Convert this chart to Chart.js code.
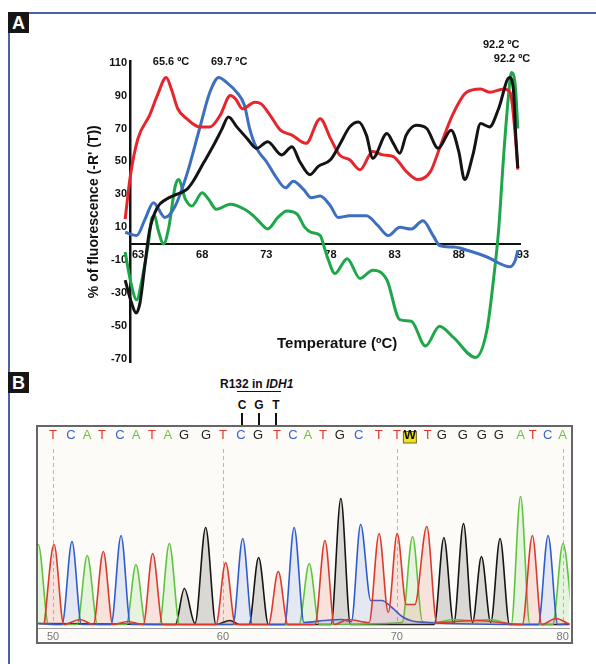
<!DOCTYPE html>
<html>
<head>
<meta charset="utf-8">
<script src="https://cdn.jsdelivr.net/npm/chart.js@4.4.0/dist/chart.umd.min.js"></script>
<style>
body { margin: 0; background: #fff; font-family: 'Liberation Sans', Arial, sans-serif; }
#page { position: relative; width: 596px; height: 664px; overflow: hidden; background: #fff; }
.rule { position: absolute; background: #4a63a3; }
.tag { position: absolute; left: 8px; width: 21px; height: 21px; line-height: 22px; background: #161616; color: #fff;
       font-weight: bold; font-size: 18px; text-align: center; }
.note { position: absolute; font-weight: bold; font-size: 12px; color: #111; white-space: nowrap; }
.bar { position: absolute; background: #111; }
#meltCanvas { position: absolute; left: 0; top: 0; }
#traceBox { position: absolute; left: 36px; top: 425px; width: 537px; height: 219px; box-sizing: border-box;
            border: 2px solid #666; background: #fcfbf7; }
#traceCanvas { position: absolute; left: 0; top: 0; }
#xTitle { position: absolute; left: 277px; top: 334px; font-weight: bold; font-size: 15px; color: #111; }
</style>
</head>
<body>
<div id="page">
  <div class="rule" style="left:29px; top:12px; width:567px; height:1.5px;"></div>
  <div class="rule" style="left:8px; top:33px; width:1.5px; height:339px;"></div>
  <div class="rule" style="left:8px; top:393px; width:1.5px; height:271px;"></div>
  <div class="tag" style="top:12px;">A</div>
  <div class="tag" style="top:372px;">B</div>

  <canvas id="meltCanvas" width="596" height="372"></canvas>
  <div id="xTitle">Temperature (ºC)</div>

  <div class="note" style="left:220px; top:377px;">R132 in <i>IDH1</i></div>
  <div class="bar" style="left:237px; top:390.5px; width:44px; height:1.5px;"></div>
  <div class="note" style="left:236px; top:398px; width:12px; text-align:center;">C</div>
  <div class="note" style="left:253px; top:398px; width:12px; text-align:center;">G</div>
  <div class="note" style="left:270px; top:398px; width:12px; text-align:center;">T</div>
  <div class="bar" style="left:241px; top:413px; width:2px; height:12px;"></div>
  <div class="bar" style="left:258px; top:413px; width:2px; height:12px;"></div>
  <div class="bar" style="left:275px; top:413px; width:2px; height:12px;"></div>

  <div id="traceBox"><canvas id="traceCanvas" width="533" height="215"></canvas></div>
</div>

<script>
// ---- panel A: melt curves, % of fluorescence against temperature ----
var tempTicks = [63, 68, 73, 78, 83, 88, 93];
var fluoTicks = [110, 90, 70, 50, 30, 10, -10, -30, -50, -70];

var tempRed = [62.0, 62.4, 63.0, 63.9, 64.5, 65.2, 65.6, 66.1, 66.8, 67.8, 68.6, 69.4, 70.2, 70.6, 71.15, 72.1, 72.6, 73.3, 74.1, 75.0,
               76.1, 77.2, 78.0, 78.7, 79.5, 80.3, 81.3, 82.1, 82.9, 83.9, 84.8, 85.8, 86.5, 87.5, 88.6, 89.7, 90.4, 91.5, 92.0, 92.4, 92.6];
var fluoRed = [15, 41, 64, 78, 90, 101, 94, 82, 76, 71, 71, 78, 90, 88, 82, 86, 85, 78, 69, 66,
               61, 76, 64, 54, 51, 45, 56, 54, 53, 44, 39, 44, 58, 78, 92, 94, 92, 94, 92, 66, 45];

var tempBlue = [62.0, 62.9, 63.55, 64.2, 65.1, 65.9, 66.8, 67.8, 68.6, 69.3, 69.9, 70.7, 71.3, 71.7, 72.25, 73.0, 73.8, 74.5, 75.1, 75.9,
                76.5, 77.2, 78.0, 78.6, 79.5, 80.8, 81.7, 82.5, 83.4, 84.3, 85.2, 86.0, 86.5, 87.6, 89.1, 90.2, 92.0, 92.4, 92.6];
var fluoBlue = [7, 5, 15, 25, 16, 23, 42, 70, 92, 101, 98, 92, 84, 70, 58, 50, 40, 34, 38, 33,
                28, 29, 23, 16, 17, 17, 11, 5, 10, 9, 14, 5, -1, -2, -5, -8, -14, -10, -4];

var tempBlack = [62.0, 62.5, 62.85, 63.15, 63.55, 63.9, 64.5, 65.2, 66.0, 66.8, 67.3, 68.1, 68.9, 69.5, 70.05, 70.7, 71.5, 72.25, 73.1, 74.2,
                 75.0, 75.6, 76.4, 77.05, 78.0, 78.7, 79.5, 80.2, 80.8, 81.3, 82.4, 82.9, 83.4, 83.9, 84.7, 85.5, 86.4, 87.4, 88.0, 88.45,
                 89.1, 89.7, 90.4, 91.1, 91.95, 92.25, 92.45, 92.6];
var fluoBlack = [-22, -36, -42, -36, -12, 8, 22, 27, 30, 33, 38, 49, 60, 69, 77, 71, 64, 58, 62, 54,
                 59, 50, 42, 47, 51, 60, 71, 74, 66, 52, 67, 61, 55, 66, 72, 70, 58, 69, 56, 39,
                 54, 73, 71, 82, 101, 94, 64, 46];

var tempGreen = [62.0, 62.4, 62.9, 63.3, 63.8, 64.1, 64.3, 64.55, 65.0, 65.4, 65.9, 66.15, 66.7, 67.2, 68.0, 68.5, 69.1, 70.2, 71.3, 72.0,
                 72.5, 73.1, 73.9, 74.6, 75.4, 76.0, 76.5, 77.2, 77.55, 77.8, 78.35, 79.3, 80.3, 81.3, 82.4, 83.4, 84.3, 85.4, 86.5, 87.6,
                 89.3, 90.2, 90.7, 91.1, 91.5, 91.85, 92.1, 92.4, 92.6];
var fluoGreen = [-5, -22, -34, -22, 0, 16, 17, 9, 0, 10, 35, 39, 27, 23, 31, 27, 21, 24, 21, 17,
                 13, 9, 16, 20, 18, 10, 7, 5, -3, -9, -18, -9, -21, -16, -22, -46, -47, -62, -50, -57,
                 -69, -52, -22, 8, 54, 88, 104, 96, 70];

var peakLabels = ['65.6 ºC', '69.7 ºC', '92.2 ºC', '92.2 ºC'];

// ---- panel B: sequencing trace ----
var bases = ['T','C','A','T','C','A','T','A','G','G','T','C','G','T','C','A','T','G','C','T','T','W','T','G','G','G','G','A','T','C','A'];
var basePos = [49.97, 51.03, 51.98, 52.86, 53.93, 54.87, 55.82, 56.76, 57.71, 59.01, 60.01, 61.08, 62.08, 63.20, 64.15, 65.03,
               65.92, 66.92, 68.04, 69.22, 70.29, 71.06, 72.12, 72.95, 74.19, 75.31, 76.31, 77.61, 78.32, 79.20, 80.09];
var baseNumbers = [50, 60, 70, 80];
var baseNumberIdx = [0, 10, 20, 30];

var greenX = [48.5, 49.1, 49.7, 51.4, 51.99, 52.6, 54.3, 54.87, 55.45, 56.25, 56.84, 57.45, 64.5, 65.11, 65.7, 70.6, 71.22, 71.8, 72.6, 73.6,
              74.7, 75.8, 76.6, 77.05, 77.6, 78.15, 79.5, 80.11, 80.7];
var greenY = [0, 80, 0, 0, 69, 0, 0, 60, 0, 0, 81, 0, 0, 61, 0, 2, 88, 3, 2, 5,
              4, 5, 2, 0, 128, 0, 0, 81, 0];
var redX = [49.45, 50.03, 50.6, 51.57, 52.35, 52.94, 53.5, 54.4, 55.3, 55.86, 56.45, 59.6, 60.17, 60.75, 62.7, 63.28, 63.85, 65.45, 66.04, 66.6,
            67.4, 68.65, 69.24, 69.78, 70.31, 70.85, 71.35, 72.06, 72.65, 75.0, 77.7, 78.3, 78.85, 79.7, 80.5];
var redY = [0, 80, 0, 5, 0, 73, 0, 3, 0, 71, 0, 0, 62, 0, 0, 53, 0, 0, 84, 0,
            5, 2, 91, 12, 91, 20, 20, 98, 2, 4, 0, 89, 0, 6, 0];
var blueX = [49.1, 50.5, 51.09, 51.65, 53.4, 53.99, 54.55, 60.6, 61.18, 61.75, 63.65, 64.22, 64.8, 66.0, 67.0, 67.6, 68.15, 68.75, 69.4, 70.0,
             70.6, 71.1, 72.0, 78.65, 79.23, 79.8, 80.5];
var blueY = [1, 0, 83, 0, 0, 89, 0, 0, 86, 0, 0, 97, 2, 4, 5, 3, 100, 24, 24, 17,
             8, 4, 2, 0, 89, 0, 1];
var blackX = [49.1, 57.2, 57.73, 58.36, 58.99, 59.6, 60.42, 61.0, 61.55, 62.12, 62.7, 66.4, 66.98, 67.55, 72.5, 73.07, 73.65, 74.23, 74.76, 75.29,
              75.84, 76.39, 76.95, 80.5];
var blackY = [1, 0, 36, 1, 97, 0, 4, 0, 0, 67, 0, 0, 126, 0, 0, 87, 1, 101, 2, 68,
              2, 86, 0, 0];

var baseColors = { T: '#e2392d', C: '#3b64c8', A: '#6cc04a', G: '#222222', W: '#111111' };
var FONT = "'Liberation Sans', Arial, sans-serif";
Chart.defaults.font.family = FONT;

function pts(xs, ys) {
    return xs.map(function (x, i) { return { x: x, y: ys[i] }; });
}

function meltLine(label, xs, ys, color) {
    return { label: label, data: pts(xs, ys), borderColor: color, backgroundColor: color, borderWidth: 3,
             pointRadius: 0, fill: false, clip: false, cubicInterpolationMode: 'monotone' };
}

// peak temperature labels above the curves
var peakText = {
    id: 'peakText',
    afterDraw: function (chart) {
        var ctx = chart.ctx, sx = chart.scales.x, sy = chart.scales.y;
        var spots = [[65.57, 110.4], [70.1, 110.4], [91.3, 120.7], [92.15, 112.2]];
        ctx.save();
        ctx.font = 'bold 11px ' + FONT;
        ctx.fillStyle = '#111';
        ctx.textAlign = 'center';
        ctx.textBaseline = 'middle';
        peakLabels.forEach(function (t, i) {
            ctx.fillText(t, sx.getPixelForValue(spots[i][0]), sy.getPixelForValue(spots[i][1]));
        });
        ctx.restore();
    }
};

new Chart(document.getElementById('meltCanvas'), {
    type: 'line',
    data: {
        datasets: [
            meltLine('Black', tempBlack, fluoBlack, '#141414'),
            meltLine('Red', tempRed, fluoRed, '#e6262c'),
            meltLine('Blue', tempBlue, fluoBlue, '#3d6fc1'),
            meltLine('Green', tempGreen, fluoGreen, '#1ea64b')
        ]
    },
    options: {
        responsive: false,
        animation: false,
        devicePixelRatio: 1,
        layout: { padding: { left: 80, right: 76, top: 61, bottom: 9 } },
        plugins: { legend: { display: false }, tooltip: { enabled: false } },
        scales: {
            x: {
                type: 'linear', position: { y: 0 }, min: 62.376, max: 92.77,
                afterBuildTicks: function (s) { s.ticks = tempTicks.map(function (v) { return { value: v }; }); },
                afterFit: function (s) { s.height = 0; },
                grid: { display: false, drawTicks: false },
                border: { color: '#111', width: 2 },
                ticks: { autoSkip: false, maxRotation: 0, padding: 5, color: '#111', font: { size: 11, weight: 'bold' } }
            },
            y: {
                type: 'linear', min: -72, max: 111,
                afterBuildTicks: function (s) { s.ticks = fluoTicks.map(function (v) { return { value: v }; }); },
                afterFit: function (s) { s.width = 50; },
                grid: { display: false, drawTicks: false },
                border: { color: '#111', width: 2.5 },
                ticks: { padding: 3, color: '#111', font: { size: 11, weight: 'bold' } },
                title: { display: true, text: "% of fluorescence (-R' (T))", color: '#111',
                         font: { size: 14, weight: 'bold' }, padding: { top: 6, bottom: 0 } }
            }
        }
    },
    plugins: [peakText]
});

// ---- panel B ----
function traceLine(label, xs, ys, color, fillColor) {
    return { label: label, data: pts(xs, ys), borderColor: color, backgroundColor: fillColor, borderWidth: 1.6,
             pointRadius: 0, fill: 'origin', cubicInterpolationMode: 'monotone' };
}

var traceMarks = {
    id: 'traceMarks',
    beforeDraw: function (chart) {
        var ctx = chart.ctx, s = chart.scales.seq;
        var i = bases.indexOf('W');
        var px = s.getPixelForValue(basePos[i]);
        ctx.save();
        ctx.fillStyle = '#f2e018';
        ctx.fillRect(px - 6.5, 4.5, 13, 11.5);
        ctx.strokeStyle = '#6f6a2a';
        ctx.lineWidth = 1;
        ctx.strokeRect(px - 6.5, 4.5, 13, 11.5);
        ctx.restore();
    },
    beforeDatasetsDraw: function (chart) {
        var ctx = chart.ctx, a = chart.chartArea, sx = chart.scales.x;
        ctx.save();
        ctx.strokeStyle = '#b8b8b8';
        ctx.lineWidth = 1;
        ctx.setLineDash([4, 3]);
        sx.ticks.forEach(function (t) {
            var px = Math.round(sx.getPixelForValue(t.value)) + 0.5;
            ctx.beginPath();
            ctx.moveTo(px, a.top + 2);
            ctx.lineTo(px, a.bottom - 3);
            ctx.stroke();
        });
        ctx.restore();
    }
};

new Chart(document.getElementById('traceCanvas'), {
    type: 'line',
    data: {
        datasets: [
            traceLine('T', redX, redY, '#d93a2e', 'rgba(226, 80, 60, 0.14)'),
            traceLine('C', blueX, blueY, '#2f5bd0', 'rgba(60, 100, 210, 0.12)'),
            traceLine('A', greenX, greenY, '#5fc33e', 'rgba(100, 200, 70, 0.14)'),
            traceLine('G', blackX, blackY, '#141414', 'rgba(40, 40, 40, 0.16)')
        ]
    },
    options: {
        responsive: false,
        animation: false,
        devicePixelRatio: 1,
        layout: { padding: 0 },
        plugins: { legend: { display: false }, tooltip: { enabled: false } },
        scales: {
            x: {
                type: 'linear', position: 'bottom', min: 49.08, max: 80.5,
                afterBuildTicks: function (s) { s.ticks = baseNumberIdx.map(function (i) { return { value: basePos[i] }; }); },
                afterFit: function (s) { s.height = 14; },
                grid: { display: false, drawTicks: false },
                border: { color: '#9a9a9a', width: 1 },
                ticks: { autoSkip: false, maxRotation: 0, padding: 2, color: '#777', font: { size: 11 },
                         callback: function (v, i) { return String(baseNumbers[i]); } }
            },
            seq: {
                type: 'linear', axis: 'x', position: 'top', min: 49.08, max: 80.5,
                afterBuildTicks: function (s) { s.ticks = basePos.map(function (v) { return { value: v }; }); },
                afterFit: function (s) { s.height = 20; },
                grid: { display: false, drawTicks: false },
                border: { display: false },
                ticks: {
                    autoSkip: false, maxRotation: 0, padding: 4,
                    callback: function (v, i) { return bases[i]; },
                    color: function (c) { return baseColors[bases[c.index]]; },
                    font: function (c) { return { size: 13, weight: bases[c.index] === 'W' ? 'bold' : 'normal' }; }
                }
            },
            y: { display: false, min: -3.5, max: 177.5 }
        }
    },
    plugins: [traceMarks]
});
</script>
</body>
</html>
